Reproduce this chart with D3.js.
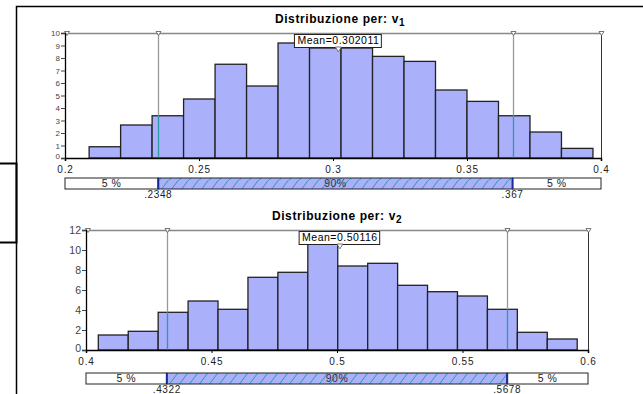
<!DOCTYPE html>
<html>
<head>
<meta charset="utf-8">
<script src="https://cdn.jsdelivr.net/npm/d3@7"></script>
<style>
  body { margin: 0; background: #fff; }
  svg { display: block; font-family: "Liberation Sans", Arial, sans-serif; }
</style>
</head>
<body>
<div id="chart"></div>
<script>
// data
const v1Counts = [0.9, 2.64, 3.38, 4.72, 7.5, 5.76, 9.2, 8.8, 8.8, 8.13, 7.73, 5.44, 4.53, 3.38, 2.08, 0.77];
const v1Range = [0.209, 0.397];
const v1Mean = 0.302011;
const v1Pct = [0.2348, 0.367];
const v1XTicks = [0.2, 0.25, 0.3, 0.35, 0.4];
const v1YTicks = [0, 1, 2, 3, 4, 5, 6, 7, 8, 9, 10];

const v2Counts = [1.5, 1.87, 3.77, 4.9, 4.07, 7.27, 7.77, 10.6, 8.4, 8.67, 6.47, 5.83, 5.4, 4.07, 1.77, 1.1];
const v2Range = [0.4049, 0.5957];
const v2Mean = 0.50116;
const v2Pct = [0.4322, 0.5678];
const v2XTicks = [0.4, 0.45, 0.5, 0.55, 0.6];
const v2YTicks = [0, 2, 4, 6, 8, 10, 12];

const W = 643, H = 394;
const svg = d3.select("#chart").append("svg").attr("width", W).attr("height", H);

const defs = svg.append("defs");
const pat = defs.append("pattern")
    .attr("id", "hatch")
    .attr("patternUnits", "userSpaceOnUse")
    .attr("width", 10).attr("height", 12);
pat.append("rect").attr("width", 10).attr("height", 12).attr("fill", "#aab0fa");
pat.append("path").attr("d", "M-2,14 L10,-2 M8,14 L20,-2")
    .attr("stroke", "#2f9aa6").attr("stroke-width", 1);

// outer frame bits
svg.append("path").attr("d", "M16.5,394 L16.5,6.5 L643,6.5")
    .attr("fill", "none").attr("stroke", "#000").attr("stroke-width", 1.5);
svg.append("path").attr("d", "M0,163.5 L16.5,163.5 L16.5,242.5 L0,242.5")
    .attr("fill", "none").attr("stroke", "#000").attr("stroke-width", 2);

function triangle(g, x, y, s, fill) {
  g.append("path")
    .attr("d", `M${x - s},${y - s} L${x + s},${y - s} L${x},${y + s * 0.6} Z`)
    .attr("fill", fill).attr("stroke", "#555").attr("stroke-width", 0.8);
}

function drawChart(o) {
  const g = svg.append("g");
  const x = d3.scaleLinear().domain(o.xDomain).range([o.left, o.right]);
  const y = d3.scaleLinear().domain([0, o.yMax]).range([o.bottom, o.top]);
  const n = o.counts.length;
  const bw = (o.range[1] - o.range[0]) / n;

  // title
  const t = g.append("text")
      .attr("x", o.titleX).attr("y", o.titleY)
      .attr("text-anchor", "middle")
      .style("font-size", "12px").style("font-weight", "bold")
      .style("letter-spacing", "0.6px");
  t.append("tspan").text("Distribuzione per: v");
  t.append("tspan").attr("dy", 3).style("font-size", "10px").text(o.sub);

  // plot frame (top gray, right dark)
  g.append("line").attr("x1", x(o.xDomain[0])).attr("x2", x(o.xDomain[1]))
      .attr("y1", o.top + 0.5).attr("y2", o.top + 0.5)
      .attr("stroke", "#888").attr("stroke-width", 1.5);
  g.append("line").attr("x1", o.right + 0.5).attr("x2", o.right + 0.5)
      .attr("y1", o.top).attr("y2", o.bottom)
      .attr("stroke", "#333").attr("stroke-width", 1);

  // bars
  g.selectAll("rect.bar").data(o.counts).join("rect")
      .attr("class", "bar")
      .attr("x", (d, i) => x(o.range[0] + i * bw))
      .attr("width", (d, i) => x(o.range[0] + (i + 1) * bw) - x(o.range[0] + i * bw))
      .attr("y", d => y(d))
      .attr("height", d => y(0) - y(d))
      .attr("fill", "#aab0fa")
      .attr("stroke", "#222").attr("stroke-width", 1.3);

  // percentile lines
  o.pct.forEach(p => {
    const i = Math.min(n - 1, Math.floor((p - o.range[0]) / bw));
    const px = Math.round(x(p)) + 0.5;
    g.append("line").attr("x1", px).attr("x2", px)
        .attr("y1", o.top).attr("y2", y(o.counts[i]))
        .attr("stroke", "#999").attr("stroke-width", 1.3);
    g.append("line").attr("x1", px).attr("x2", px)
        .attr("y1", y(o.counts[i])).attr("y2", o.bottom)
        .attr("stroke", "#2f9aa6").attr("stroke-width", 1.3);
    triangle(g, px, o.top + 1, 2.5, "#fff");
  });
  triangle(g, o.right + 0.5, o.top + 1, 2.5, "#fff");
  triangle(g, o.left + 2, o.top + 1, 2.5, "#fff");

  // axes
  const xAxis = g.append("g").attr("transform", `translate(0,${o.bottom})`)
      .call(d3.axisBottom(x).tickValues(o.xTicks).tickSize(3).tickFormat(d3.format("")));
  xAxis.select(".domain").attr("stroke", "#000").attr("stroke-width", 1.5);
  xAxis.selectAll("text").style("font-size", "10px").style("letter-spacing", "0.8px")
      .attr("fill", "#222").attr("dy", "0.85em");

  const yAxis = g.append("g").attr("transform", `translate(${o.left},0)`)
      .call(d3.axisLeft(y).tickValues(o.yTicks).tickSize(4).tickPadding(1));
  yAxis.select(".domain").attr("stroke", "#000").attr("stroke-width", 1.3);
  yAxis.selectAll("text").style("font-size", o.yFont + "px").attr("fill", "#444");
  yAxis.selectAll(".tick").filter(d => d === 0).select("text").attr("dy", "0.1em");
  yAxis.selectAll("line").attr("stroke", "#444");

  // mean box + marker
  const mx = x(o.mean);
  const mg = g.append("g");
  const mt = mg.append("text")
      .attr("x", mx).attr("y", o.top + 11)
      .attr("text-anchor", "middle")
      .style("font-size", "10.5px").style("letter-spacing", "0.5px")
      .text("Mean=" + o.meanLabel);
  const bb = mt.node().getBBox();
  mg.insert("rect", "text")
      .attr("x", bb.x - 3).attr("y", o.top + 1.5)
      .attr("width", bb.width + 5).attr("height", 13)
      .attr("fill", "#fff").attr("stroke", "#222");
  triangle(g, mx, o.top + 17, 3, "#fff");

  // 5% / 90% / 5% strip
  const sy = o.stripY, sh = 11;
  const xs = [x(o.xDomain[0]), x(o.pct[0]), x(o.pct[1]), x(o.xDomain[1])];
  g.append("rect").attr("x", xs[0]).attr("y", sy).attr("width", xs[1] - xs[0]).attr("height", sh)
      .attr("fill", "#fff").attr("stroke", "#222");
  g.append("rect").attr("x", xs[1]).attr("y", sy).attr("width", xs[2] - xs[1]).attr("height", sh)
      .attr("fill", "url(#hatch)").attr("stroke", "#222");
  g.append("rect").attr("x", xs[2]).attr("y", sy).attr("width", xs[3] - xs[2]).attr("height", sh)
      .attr("fill", "#fff").attr("stroke", "#222");
  [xs[1], xs[2]].forEach(v => {
    g.append("line").attr("x1", v).attr("x2", v).attr("y1", sy).attr("y2", sy + sh)
        .attr("stroke", "#1a2a9a").attr("stroke-width", 2);
  });
  const labs = ["5 %", "90%", "5 %"];
  labs.forEach((l, i) => {
    g.append("text").attr("x", (xs[i] + xs[i + 1]) / 2).attr("y", sy + 9)
        .attr("text-anchor", "middle").style("font-size", "10.5px")
        .style("letter-spacing", "0.5px")
        .attr("fill", i === 1 ? "#334" : "#222").text(l);
  });
  o.pctLabels.forEach((l, i) => {
    g.append("text").attr("x", xs[i + 1]).attr("y", sy + sh + 9)
        .attr("text-anchor", "middle").style("font-size", "10px")
        .style("letter-spacing", "0.6px").attr("fill", "#222").text(l);
  });
}

drawChart({
  counts: v1Counts, range: v1Range, mean: v1Mean, meanLabel: "0.302011", pct: v1Pct,
  pctLabels: [".2348", ".367"], xTicks: v1XTicks, yTicks: v1YTicks, xDomain: [0.2, 0.4], yMax: 10,
  left: 65, right: 601, top: 33, bottom: 158, titleX: 340, titleY: 23, sub: "1",
  stripY: 178, yFont: 8
});
drawChart({
  counts: v2Counts, range: v2Range, mean: v2Mean, meanLabel: "0.50116", pct: v2Pct,
  pctLabels: [".4322", ".5678"], xTicks: v2XTicks, yTicks: v2YTicks, xDomain: [0.4, 0.6], yMax: 12,
  left: 86, right: 588, top: 230, bottom: 350, titleX: 337, titleY: 220, sub: "2",
  stripY: 373, yFont: 10.5
});
</script>
</body>
</html>
